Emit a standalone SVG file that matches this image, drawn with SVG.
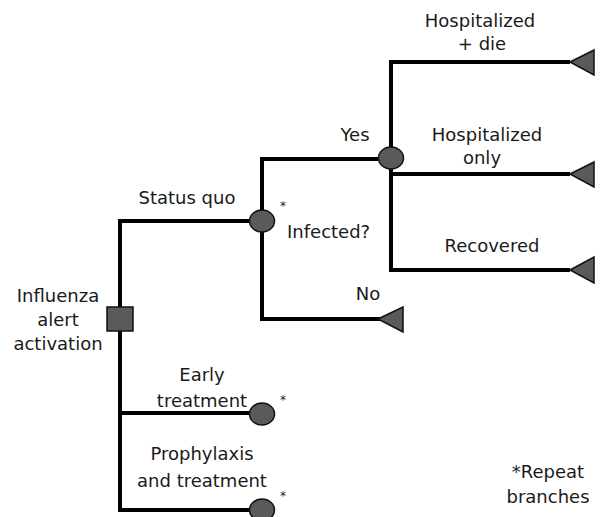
<svg xmlns="http://www.w3.org/2000/svg" width="605" height="517" viewBox="0 0 605 517">
<style>
  .ln{fill:none;stroke:#000;stroke-width:4;stroke-linejoin:miter;stroke-linecap:butt}
  .node{fill:#5a5a5a;stroke:#111;stroke-width:1.5}
  text{font-family:"DejaVu Sans","Liberation Sans",sans-serif;font-size:18px;fill:#1a1a1a}
  .c{text-anchor:middle}
  .ast{font-size:12px}
</style>
<rect width="605" height="517" fill="#fff"/>
<g id="connectors">
  <polyline class="ln" points="250,221 120,221 120,510 250,510"/>
  <line class="ln" x1="120" y1="413" x2="250" y2="413"/>
  <polyline class="ln" points="378,159 262,159 262,319 380,319"/>
  <polyline class="ln" points="570,62 391,62 391,270 570,270"/>
  <line class="ln" x1="391" y1="174" x2="570" y2="174"/>
</g>
<g id="root">
  <rect class="node" x="107" y="307" width="26" height="24"/>
  <text class="c" x="58" y="302">Influenza</text>
  <text class="c" x="58" y="326">alert</text>
  <text class="c" x="58" y="350">activation</text>
</g>
<g id="status-quo">
  <text class="c" x="187" y="204">Status quo</text>
</g>
<g id="infected">
  <ellipse class="node" cx="262" cy="221" rx="12.5" ry="11"/>
  <text class="ast" x="280" y="210">*</text>
  <text x="287" y="238">Infected?</text>
</g>
<g id="yes">
  <text class="c" x="355" y="141">Yes</text>
  <ellipse class="node" cx="391" cy="158" rx="12.5" ry="11"/>
</g>
<g id="no">
  <text class="c" x="368" y="300">No</text>
  <polygon class="node" points="378,319 403,307 403,332"/>
</g>
<g id="hosp-die">
  <text class="c" x="480" y="27">Hospitalized</text>
  <text class="c" x="482" y="50">+ die</text>
  <polygon class="node" points="570,62 594,50 594,75"/>
</g>
<g id="hosp-only">
  <text class="c" x="487" y="141">Hospitalized</text>
  <text class="c" x="482" y="164">only</text>
  <polygon class="node" points="570,174 594,162 594,187"/>
</g>
<g id="recovered">
  <text class="c" x="492" y="252">Recovered</text>
  <polygon class="node" points="570,270 594,257 594,283"/>
</g>
<g id="early">
  <text class="c" x="202" y="381">Early</text>
  <text class="c" x="202" y="407">treatment</text>
  <ellipse class="node" cx="262" cy="414" rx="12.5" ry="11"/>
  <text class="ast" x="280" y="404">*</text>
</g>
<g id="prophylaxis">
  <text class="c" x="202" y="460">Prophylaxis</text>
  <text class="c" x="202" y="487">and treatment</text>
  <ellipse class="node" cx="262" cy="510" rx="12.5" ry="11"/>
  <text class="ast" x="280" y="500">*</text>
</g>
<g id="note">
  <text class="c" x="548" y="478">*Repeat</text>
  <text class="c" x="548" y="503">branches</text>
</g>
</svg>
